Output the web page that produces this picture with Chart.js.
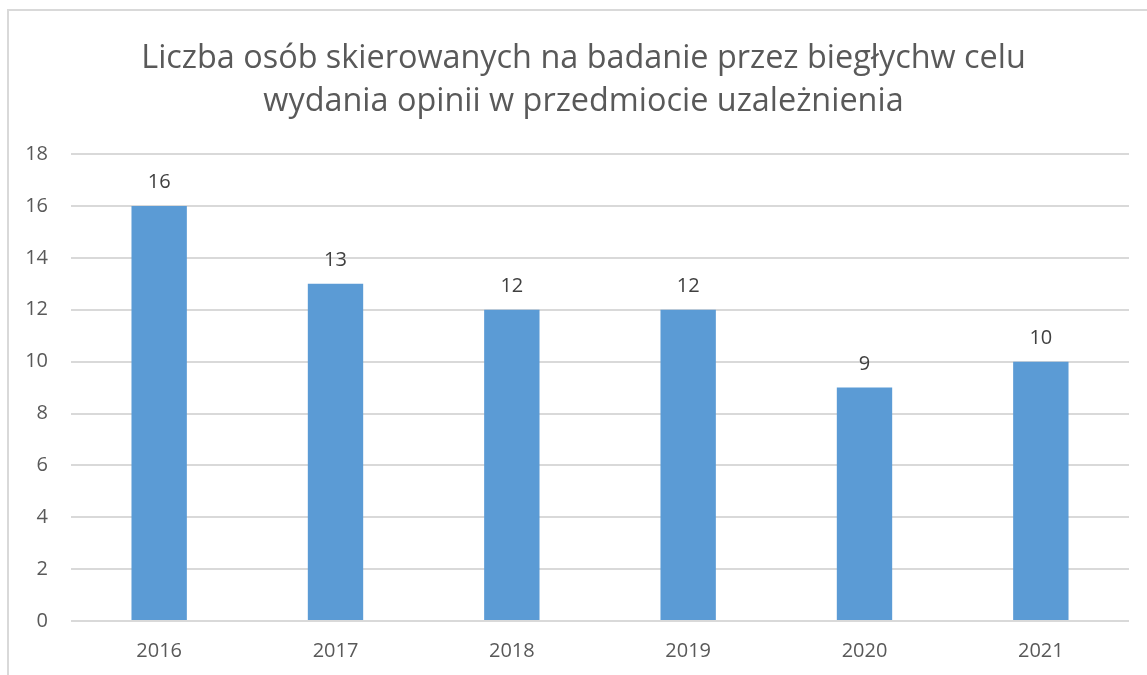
<!DOCTYPE html>
<html>
<head>
<meta charset="utf-8">
<script src="https://cdn.jsdelivr.net/npm/chart.js@4.4.1/dist/chart.umd.min.js"></script>
<style>
  html, body { margin: 0; padding: 0; background: #fff; overflow: hidden; }
  #frame { position: absolute; left: 7px; top: 9px; width: 1160px; height: 700px; border: 2px solid #D9D9D9; box-sizing: border-box; }
  #wrap { position: absolute; left: 0; top: 0; width: 1147px; height: 675px; }
</style>
</head>
<body>
<div id="frame"></div>
<div id="wrap"><canvas id="chart"></canvas></div>
<script>
var years = ['2016', '2017', '2018', '2019', '2020', '2021'];
var counts = [16, 13, 12, 12, 9, 10];
var titleLines = ['Liczba osób skierowanych na badanie przez biegłychw celu', 'wydania opinii w przedmiocie uzależnienia'];

// value labels above each bar
var barLabels = {
  id: 'barLabels',
  afterLayout: function(chart) {
    // centre the title a bit to the right, like the original
    chart.titleBlock.left = 38;
  },
  afterDatasetsDraw: function(chart) {
    var ctx = chart.ctx;
    var meta = chart.getDatasetMeta(0);
    ctx.save();
    ctx.font = '20px "Open Sans"';
    ctx.fillStyle = '#404040';
    ctx.textAlign = 'center';
    ctx.textBaseline = 'alphabetic';
    meta.data.forEach(function(bar, i) {
      ctx.fillText(counts[i], bar.x, bar.y - 18);
    });
    ctx.restore();
  }
};

new Chart(document.getElementById('chart'), {
  type: 'bar',
  data: {
    labels: years,
    datasets: [{
      data: counts,
      backgroundColor: '#5B9BD5',
      borderWidth: 0,
      barPercentage: 0.314,
      categoryPercentage: 1
    }]
  },
  options: {
    responsive: true,
    maintainAspectRatio: false,
    animation: false,
    layout: { padding: { left: 0, right: 18, top: 0, bottom: 0 } },
    plugins: {
      legend: { display: false },
      tooltip: { enabled: false },
      title: {
        display: true,
        text: titleLines,
        color: '#595959',
        font: { family: 'Open Sans', size: 32.4, weight: 'normal', lineHeight: 1.33 },
        padding: { top: 37, bottom: 31 }
      }
    },
    scales: {
      x: {
        grid: { display: false, drawTicks: false },
        border: { display: false },
        ticks: { color: '#595959', font: { family: 'Open Sans', size: 20 }, padding: 18 },
        afterFit: function(s) { s.height = 54; }
      },
      y: {
        min: 0,
        max: 18,
        ticks: { stepSize: 2, color: '#595959', font: { family: 'Open Sans', size: 20 }, padding: 23 },
        grid: { color: '#D9D9D9', lineWidth: 2, drawTicks: false },
        border: { display: false },
        afterFit: function(s) { s.width = 71; }
      }
    }
  },
  plugins: [barLabels]
});
</script>
</body>
</html>
